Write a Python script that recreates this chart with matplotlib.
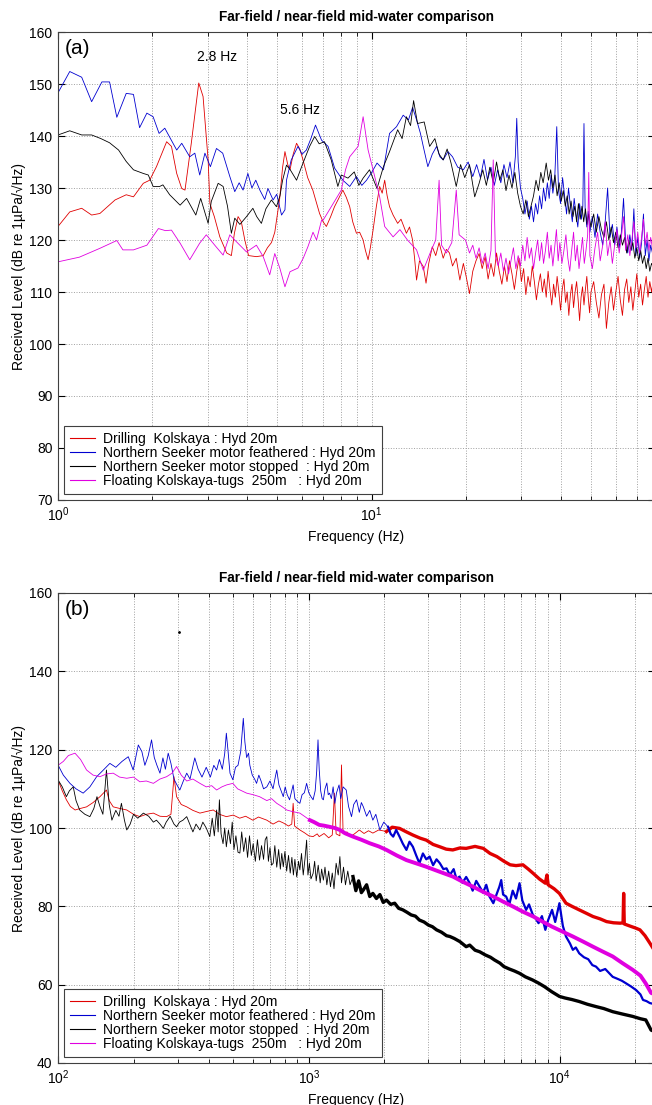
import numpy as np
import matplotlib
matplotlib.use('Agg')
import matplotlib.pyplot as plt
from matplotlib.ticker import LogLocator, MultipleLocator, NullFormatter

plt.rcParams['font.family'] = ['Liberation Sans', 'DejaVu Sans']
plt.rcParams['mathtext.fontset'] = 'custom'
plt.rcParams['mathtext.rm'] = 'Liberation Sans'

title = 'Far-field / near-field mid-water comparison'
ylab = 'Received Level (dB re 1\u00b5Pa/\u221aHz)'
labels = ['Drilling  Kolskaya : Hyd 20m',
          'Northern Seeker motor feathered : Hyd 20m',
          'Northern Seeker motor stopped  : Hyd 20m',
          'Floating Kolskaya-tugs  250m   : Hyd 20m']
colors = ['#e00000', '#0000d0', '#000000', '#e000e0']

# ---------------- panel (a): 1 - 80 Hz ----------------
a_red_f = [1.0, 1.09, 1.19, 1.28, 1.36, 1.52, 1.65, 1.74, 1.87, 1.96, 2.06, 2.22, 2.30, 2.39, 2.48, 2.54, 2.66, 2.81, 2.90, 3.01,
           3.05, 3.15, 3.28, 3.45, 3.57, 3.65, 3.75, 3.84, 3.94, 4.05, 4.29, 4.51, 4.65, 4.79, 4.91, 5.09, 5.2, 5.29, 5.40, 5.49,
           5.62, 5.76, 5.9, 6.04, 6.25, 6.49, 6.82, 7.0, 7.17, 7.4, 7.61, 7.85, 8.09, 8.3, 8.51, 8.7, 8.94, 9.15, 9.39, 9.55,
           9.74, 9.9, 10.1, 10.35, 10.6, 10.8, 11.0, 11.2, 11.4, 11.7, 12.1, 12.4, 12.9, 13.2, 13.5, 13.7, 13.9, 14.2, 14.6, 14.9,
           15.2, 15.6, 16.0, 16.4, 16.9, 17.3, 17.7, 18.1, 18.6, 19.1, 19.6, 20.0, 20.5, 21.0, 21.5, 22.0, 22.5, 23.0, 23.5, 24.0,
           24.5, 25.0, 25.5, 26.0, 26.5, 27.0, 27.5, 28.0, 28.5, 29.0, 29.5, 30.0, 30.5, 31.0, 31.5, 32.0, 32.5, 33.0, 33.5, 34.0,
           34.5, 35.0, 35.5, 36.0, 36.5, 37.0, 37.5, 38.0, 38.5, 39.0, 39.5, 40.0, 40.5, 41.0, 41.5, 42.0, 42.5, 43.0, 43.5, 44.0,
           44.5, 45.0, 45.5, 46.0, 46.5, 47.0, 47.5, 48.0, 48.5, 49.0, 49.5, 50, 51, 52, 53, 54, 55, 56, 57, 58,
           59, 60, 61, 62, 63, 64, 65, 66, 67, 68, 69, 70, 71, 72, 73, 74, 75, 76, 77, 78, 79, 80]
a_red_db = [122.6, 125.4, 126.1, 124.8, 125.1, 127.7, 128.7, 128.3, 130.9, 131.5, 134.1, 138.9, 138.0, 132.8, 129.9, 129.6, 138.6, 150.2, 147.6, 135.4,
            127.0, 124.5, 120.6, 117.5, 117.0, 121.3, 124.5, 123.5, 120.0, 117.0, 116.8, 117.0, 118.5, 119.5, 121.5, 128.0, 134.0, 137.0, 134.5, 133.5,
            136.5, 138.6, 137.5, 135.4, 132.0, 129.6, 125.1, 123.5, 122.6, 124.5, 126.4, 128.0, 129.6, 128.2, 126.4, 123.5, 121.3, 121.5, 120.0, 118.0,
            116.2, 118.5, 121.9, 126.5, 130.3, 129.0, 131.5, 128.5, 126.4, 124.8, 123.2, 124.0, 121.3, 122.5, 120.0, 116.5, 112.3, 116.0, 114.9, 111.7,
            115.5, 118.7, 117.0, 119.5, 116.5, 118.2, 117.5, 115.0, 116.5, 112.3, 115.5, 113.0, 109.7, 114.0, 116.0, 117.4, 114.5, 116.8, 112.5, 115.5,
            113.0, 117.5, 114.0, 111.5, 115.0, 112.0, 116.0, 113.5, 110.5, 114.0, 116.5, 112.0, 114.5, 109.5, 113.0, 111.0, 115.0, 112.0, 108.5, 111.5,
            113.5, 110.0, 112.5, 109.0, 114.0, 110.5, 107.5, 111.5, 109.0, 113.0, 110.0, 106.5, 110.5, 112.5, 108.0, 110.0, 105.5, 109.5, 111.5, 107.0,
            110.0, 112.0, 108.5, 104.5, 109.0, 111.0, 107.5, 110.5, 113.0, 109.0, 106.0, 110.0, 112.0, 108.0, 105.0, 109.5, 111.5, 103.0, 108.0, 111.0,
            106.5, 110.0, 113.0, 108.5, 105.5, 110.5, 112.5, 108.0, 111.0, 106.5, 110.0, 113.5, 109.0, 111.5, 107.5, 110.5, 113.0, 109.0, 112.0, 110.0, 112.5, 111.0]

a_blue_f = [1.0, 1.09, 1.19, 1.28, 1.38, 1.46, 1.54, 1.65, 1.74, 1.82, 1.92, 2.01, 2.10, 2.19, 2.39, 2.48, 2.63, 2.73, 2.83, 2.94,
            3.06, 3.20, 3.35, 3.53, 3.66, 3.78, 3.89, 4.03, 4.15, 4.27, 4.40, 4.56, 4.67, 4.85, 4.98, 5.16, 5.29, 5.35, 5.54, 5.82,
            6.0, 6.19, 6.4, 6.62, 6.92, 7.26, 7.62, 8.09, 8.51, 8.94, 9.3, 9.63, 10.0, 10.4, 10.9, 11.4, 12.0, 12.6, 13.1, 13.5,
            13.9, 14.3, 14.6, 15.1, 15.6, 16.1, 16.5, 16.9, 17.5, 18.1, 18.8, 19.6, 20.3, 21.0, 21.6, 22.2, 22.8, 23.4, 24.0, 24.6,
            25.2, 25.8, 26.4, 27.0, 27.6, 28.2, 28.7, 29.0, 29.3, 29.8, 30.3, 30.8, 31.3, 31.8, 32.3, 32.8, 33.3, 33.8, 34.3, 34.8,
            35.3, 35.8, 36.3, 36.8, 37.3, 37.8, 38.3, 38.9, 39.4, 40.0, 40.6, 41.2, 41.8, 42.4, 43.0, 43.6, 44.2, 44.8, 45.4, 46.0,
            46.6, 47.1, 47.5, 47.9, 48.5, 49.0, 49.6, 50.5, 51.5, 52.5, 53.5, 54.5, 55.5, 56.5, 57.5, 58.5, 59.5, 60.5, 61.5, 62.5,
            63.5, 64.5, 65.5, 66.5, 67.5, 68.5, 69.5, 70.5, 71.5, 72.5, 73.5, 74.5, 75.5, 76.5, 77.5, 78.5, 80]
a_blue_db = [148.3, 152.4, 151.3, 146.6, 150.4, 150.4, 143.6, 148.2, 148.0, 141.6, 144.4, 143.7, 140.5, 141.5, 137.3, 138.6, 136.0, 136.7, 132.5, 136.7,
             134.1, 137.6, 136.7, 132.2, 129.3, 131.0, 129.6, 132.8, 130.0, 131.5, 129.6, 127.8, 129.9, 127.7, 128.8, 124.8, 125.8, 131.5, 135.4, 138.0,
             136.5, 137.3, 139.5, 142.1, 139.2, 138.0, 133.8, 131.5, 130.3, 132.2, 130.5, 131.5, 133.0, 134.8, 133.5, 140.5, 141.8, 144.0, 143.1, 145.5,
             143.1, 140.5, 138.0, 134.1, 136.5, 138.0, 136.0, 135.4, 137.0, 136.0, 134.0, 133.5, 135.0, 132.2, 134.5, 132.0, 135.5, 131.5, 134.0, 130.5,
             133.5, 131.0, 134.5, 132.0, 135.0, 131.0, 136.0, 143.4, 135.0, 130.0, 128.0, 125.0, 127.5, 124.0, 126.5, 123.5, 127.0, 125.0, 128.5, 126.0,
             130.0, 127.5, 131.0, 128.0, 132.5, 129.0, 131.5, 141.8, 129.5, 127.0, 132.0, 128.5, 125.0, 130.0, 126.5, 123.5, 128.0, 125.0, 122.5, 127.0,
             124.0, 126.5, 142.4, 126.0, 122.5, 125.5, 121.5, 124.5, 120.5, 125.0, 121.5, 119.0, 123.5, 130.0, 120.5, 123.0, 119.0, 122.5, 118.5, 121.5,
             128.0, 119.5, 117.5, 121.0, 118.0, 126.0, 117.0, 120.5, 116.5, 119.5, 125.0, 117.0, 120.0, 116.0, 119.0, 117.5, 119.0]

a_black_f = [1.0, 1.09, 1.19, 1.28, 1.37, 1.46, 1.56, 1.65, 1.74, 1.87, 1.94, 2.01, 2.11, 2.16, 2.27, 2.45, 2.57, 2.75, 2.85, 3.01,
             3.08, 3.24, 3.36, 3.47, 3.57, 3.66, 3.8, 3.99, 4.18, 4.30, 4.45, 4.60, 4.79, 4.97, 5.1, 5.2, 5.35, 5.5, 5.76, 6.04,
             6.34, 6.58, 6.8, 7.07, 7.43, 7.80, 8.0, 8.40, 8.80, 9.1, 9.39, 9.84, 10.4, 10.9, 11.4, 12.1, 12.5, 12.9, 13.3, 13.6,
             14.0, 14.7, 15.3, 15.9, 16.4, 16.9, 17.4, 17.9, 18.6, 19.2, 19.8, 20.5, 21.3, 22.0, 22.6, 23.2, 23.8, 24.4, 25.0, 25.6,
             26.2, 26.8, 27.4, 28.0, 28.6, 29.2, 29.8, 30.4, 31.0, 31.6, 32.2, 32.8, 33.4, 34.0, 34.6, 35.2, 36.0, 36.6, 37.2, 37.8,
             38.4, 39.0, 39.6, 40.2, 40.8, 41.4, 42.0, 42.6, 43.2, 43.8, 44.4, 45.0, 45.6, 46.2, 46.8, 47.4, 48.0, 48.6, 49.2, 50,
             51, 52, 53, 54, 55, 56, 57, 58, 59, 60, 61, 62, 63, 64, 65, 66, 67, 68, 69, 70,
             71, 72, 73, 74, 75, 76, 77, 78, 80]
a_black_db = [140.2, 141.0, 140.2, 140.2, 139.5, 138.7, 137.3, 135.1, 133.5, 132.8, 132.5, 130.3, 130.3, 130.6, 128.7, 126.7, 128.0, 124.8, 128.0, 123.2,
              127.4, 130.9, 130.3, 126.5, 121.3, 124.2, 123.0, 124.5, 126.1, 124.5, 123.2, 126.0, 127.7, 126.4, 128.5, 131.5, 134.4, 133.5, 131.5, 134.8,
              138.0, 139.9, 138.5, 138.9, 135.4, 130.3, 132.5, 131.9, 133.1, 130.5, 131.9, 133.5, 129.9, 134.1, 137.0, 141.2, 139.5, 143.7, 142.0, 146.8,
              142.4, 142.7, 138.0, 139.5, 136.5, 135.4, 137.5, 134.8, 130.3, 134.5, 132.0, 134.5, 128.3, 130.9, 133.5, 130.5, 134.0, 131.0, 135.0, 131.5,
              133.5, 129.5, 132.5, 130.0, 133.0, 129.0, 126.5, 125.0, 127.7, 124.5, 126.5, 128.5, 131.5, 129.5, 133.0, 131.0, 134.8, 131.5, 133.5, 130.0,
              132.5, 128.5, 131.0, 127.5, 129.5, 126.5, 128.5, 125.0, 127.5, 124.5, 126.5, 123.5, 127.0, 124.0, 126.5, 123.5, 126.0, 123.0, 125.0, 122.5,
              125.0, 121.5, 124.5, 122.0, 120.5, 123.5, 120.0, 122.5, 119.5, 121.5, 118.5, 121.0, 119.0, 120.5, 117.5, 120.0, 118.0, 119.5, 116.5, 118.5,
              116.0, 118.0, 115.5, 117.0, 114.5, 116.5, 114.0, 115.5, 114.0]

a_mag_f = [1.0, 1.17, 1.36, 1.54, 1.61, 1.74, 1.92, 2.09, 2.2, 2.30, 2.45, 2.63, 2.83, 2.97, 3.16, 3.36, 3.53, 3.70, 3.99, 4.29,
           4.51, 4.73, 4.91, 5.1, 5.29, 5.49, 5.82, 6.05, 6.26, 6.5, 6.67, 6.92, 7.0, 7.43, 8.0, 8.25, 8.51, 9.05, 9.39, 9.74,
           10.1, 10.6, 11.0, 11.7, 12.3, 13.0, 13.9, 14.6, 15.5, 16.0, 16.4, 16.7, 17.3, 18.0, 18.6, 19.0, 19.9, 20.5, 21.0, 21.5,
           22.0, 22.5, 23.0, 23.5, 24.0, 24.4, 24.8, 25.3, 25.8, 26.3, 26.8, 27.3, 27.8, 28.3, 28.8, 29.3, 29.8, 30.3, 30.8, 31.3,
           31.8, 32.3, 32.8, 33.3, 33.8, 34.3, 34.8, 35.3, 35.8, 36.3, 36.8, 37.3, 37.8, 38.3, 38.8, 39.3, 39.8, 40.4, 41.0, 41.6,
           42.2, 42.8, 43.4, 44.0, 44.6, 45.2, 45.8, 46.4, 47.0, 47.6, 48.2, 48.8, 49.2, 49.6, 50.5, 51.5, 52.5, 53.5, 54.5, 55.5,
           56.5, 57.5, 58.5, 59.5, 60.5, 61.5, 62.5, 63.5, 64.5, 65.5, 66.5, 67.5, 68.5, 69.5, 70.5, 71.5, 72.5, 73.5, 74.5, 75.5,
           76.5, 77.5, 78.5, 80]
a_mag_db = [115.8, 116.7, 118.4, 119.9, 118.1, 118.1, 119.0, 122.2, 121.8, 121.9, 119.4, 116.2, 119.4, 121.0, 119.0, 117.1, 121.0, 119.7, 117.7, 119.0,
            116.8, 113.3, 117.4, 114.5, 111.0, 113.9, 114.6, 116.5, 118.7, 121.5, 120.0, 123.8, 123.8, 126.4, 129.6, 133.5, 136.0, 138.0, 143.7, 137.3,
            133.5, 128.3, 122.6, 120.6, 122.0, 120.0, 118.1, 114.2, 118.1, 120.0, 131.5, 119.0, 117.5, 119.5, 129.6, 121.0, 120.0, 117.5, 119.0, 116.5,
            118.5, 115.5, 117.5, 114.5, 118.0, 135.4, 117.0, 115.0, 117.5, 114.0, 116.5, 113.5, 116.0, 118.5, 114.5, 117.0, 115.0, 119.0, 116.0, 120.5,
            116.5, 118.5, 114.5, 117.5, 120.0, 116.0, 119.5, 115.5, 118.0, 121.5, 116.5, 119.0, 115.0, 118.5, 122.0, 116.0, 119.5, 115.5, 118.0, 121.0,
            116.5, 114.0, 118.0, 121.5, 116.0, 119.0, 114.5, 117.5, 120.5, 115.5, 118.0, 121.0, 133.0, 117.0, 114.5, 118.5, 121.5, 116.0, 119.0, 123.5,
            117.0, 120.0, 115.5, 119.0, 122.0, 117.5, 120.5, 124.5, 118.0, 121.0, 117.0, 120.0, 123.5, 118.5, 121.5, 117.5, 120.5, 124.0, 119.0, 121.5,
            118.0, 120.5, 118.5, 119.5]

# ---------------- panel (b): 100 Hz - 24 kHz ----------------
b_red_f = [100, 104, 108, 112, 117, 123, 130, 138, 147, 156, 160, 166, 176, 188, 200, 212, 225, 240, 255, 271,
           282, 290, 297, 310, 326, 345, 368, 390, 416, 440, 469, 500, 530, 560, 598, 630, 680, 720, 760, 791,
           830, 855, 866, 878, 921, 960, 1000, 1040, 1080, 1100, 1150, 1200, 1240, 1265, 1285, 1330, 1350, 1370, 1420, 1460,
           1520, 1590, 1660, 1730, 1800, 1900, 2040, 2150, 2300, 2450, 2600, 2780, 2940, 3130, 3330, 3530, 3750, 4000, 4240, 4600,
           4960, 5280, 5620, 6000, 6350, 6700, 7140, 7500, 7850, 8300, 8770, 8900, 9000, 9500, 9980, 10300, 10600, 11200, 11970, 12800,
           13580, 14500, 15390, 16400, 17440, 17900, 18000, 18100, 19000, 20000, 20900, 21900, 22900, 24000]
b_red_db = [112.3, 109.5, 107.2, 105.5, 104.6, 105.0, 105.4, 106.5, 108.0, 109.7, 107.0, 105.4, 105.0, 104.6, 103.5, 102.9, 103.5, 103.8, 103.0, 102.9,
            103.5, 113.1, 108.0, 106.0, 105.4, 104.5, 103.8, 104.2, 104.6, 103.5, 102.9, 103.3, 102.5, 103.0, 102.0, 102.8, 102.0, 101.0, 101.8, 101.3,
            100.5, 101.0, 106.3, 100.5, 99.5, 98.8, 98.0, 97.8, 98.5, 97.8, 98.6, 97.5, 98.2, 108.9, 98.5, 98.0, 116.1, 98.5, 99.0, 97.8,
            98.5, 99.5, 98.6, 99.3, 98.7, 99.5, 99.1, 100.2, 99.9, 99.0, 98.2, 97.4, 96.9, 95.8, 95.2, 94.6, 94.4, 94.9, 94.8, 95.3,
            94.8, 93.5, 92.7, 91.5, 90.6, 90.4, 90.6, 89.5, 88.4, 87.0, 85.9, 88.0, 85.5, 84.5, 83.3, 82.0, 80.8, 80.0, 79.1, 78.2,
            77.4, 76.8, 76.1, 75.8, 75.7, 75.8, 83.3, 75.5, 75.0, 74.5, 74.0, 72.5, 70.6, 68.5]

b_blue_f = [100, 105, 111.6, 118, 126, 134, 142.6, 150, 161, 170, 180, 190.6, 199.4, 209, 216, 222, 229, 236, 242, 248,
            255, 262, 268, 275, 282, 290, 298, 306, 316, 326, 336, 351, 362, 375, 390, 405, 418, 429, 440, 452,
            462, 469, 476, 485, 498, 510, 522, 535, 542, 548, 556, 565, 575, 582, 595, 608, 619, 632, 645, 660,
            680, 700, 720, 735, 745, 760, 775, 791, 805, 820, 838, 855, 866, 880, 900, 921, 940, 960, 980, 1000,
            1020, 1040, 1060, 1075, 1088, 1100, 1115, 1130, 1143, 1160, 1180, 1195, 1210, 1230, 1250, 1270, 1290, 1320, 1340, 1370,
            1410, 1440, 1480, 1510, 1550, 1590, 1620, 1650, 1700, 1750, 1800, 1850, 1920, 1990, 2070, 2120, 2170, 2230, 2300, 2370,
            2450, 2520, 2600, 2680, 2760, 2850, 2940, 3030, 3130, 3230, 3330, 3440, 3540, 3650, 3780, 3880, 3990, 4100, 4240, 4380,
            4500, 4650, 4800, 4950, 5100, 5250, 5440, 5600, 5750, 5850, 5950, 6120, 6300, 6500, 6700, 6920, 7100, 7350, 7550, 7800,
            8000, 8240, 8500, 8770, 9000, 9330, 9600, 9980, 10300, 10600, 11000, 11290, 11600, 11970, 12500, 13000, 13500, 13970, 14500, 15200,
            16280, 17000, 17700, 18440, 19300, 20200, 21000, 21500, 22200, 22890, 24000]
b_blue_db = [116.1, 113.5, 111.4, 110.0, 108.9, 110.5, 113.1, 114.5, 116.5, 115.5, 117.0, 118.2, 114.8, 121.2, 119.5, 116.0, 118.5, 122.5, 118.0, 116.0,
             114.0, 117.9, 115.0, 119.1, 116.5, 112.5, 111.0, 109.7, 112.0, 114.0, 112.5, 117.9, 115.0, 113.0, 115.5, 113.0, 116.0, 114.8, 117.5, 115.0,
             119.0, 124.2, 119.9, 114.0, 112.3, 115.5, 116.0, 119.5, 124.0, 128.0, 122.0, 118.0, 119.1, 116.0, 113.5, 112.5, 111.4, 113.5, 112.0, 110.0,
             110.5, 112.0, 110.0, 113.0, 114.8, 111.0, 109.5, 108.0, 110.5, 108.5, 107.2, 109.5, 111.0, 107.5, 106.8, 106.3, 108.5, 109.0, 111.4, 109.0,
             108.0, 107.2, 109.5, 114.5, 122.5, 115.0, 109.5, 107.5, 107.2, 110.0, 111.5, 108.5, 108.9, 107.5, 110.5, 106.3, 109.0, 111.0, 107.5, 110.5,
             109.7, 105.5, 102.9, 106.0, 107.2, 104.0, 106.5, 105.4, 103.0, 104.5, 102.0, 103.5, 99.5, 101.5, 100.3, 98.5, 97.8, 99.5, 97.8, 96.0,
             94.4, 96.5, 95.2, 93.0, 91.0, 93.5, 92.0, 92.7, 90.5, 92.0, 91.0, 89.5, 89.7, 88.0, 89.5, 87.0, 87.6, 86.0, 87.5, 85.9,
             84.0, 86.5, 85.0, 83.5, 85.5, 82.5, 80.8, 83.0, 85.0, 86.7, 83.0, 82.5, 80.5, 84.0, 82.0, 85.9, 81.5, 79.1, 80.5, 78.0,
             77.0, 75.7, 77.5, 74.0, 76.5, 79.1, 76.0, 80.8, 75.0, 72.3, 70.5, 68.9, 69.5, 68.0, 67.0, 66.5, 65.0, 64.6, 63.5, 64.0,
             62.0, 61.5, 61.0, 60.3, 59.5, 58.6, 57.5, 56.1, 55.8, 55.3, 55.0]

b_black_f = [100, 104, 108, 111, 115, 118, 122, 128, 134, 139, 143, 147, 151, 156, 160, 164, 170, 175, 179, 184,
             188, 194, 200, 208, 219, 230, 240, 247, 255, 263, 270, 280, 290, 297, 305, 315, 326, 335, 345, 355,
             368, 378, 390, 403, 412, 420, 429, 435, 440, 447, 455, 462, 469, 478, 487, 495, 503, 512, 522, 531,
             540, 550, 560, 570, 580, 590, 600, 612, 624, 636, 648, 660, 670, 680, 690, 700, 710, 721, 732, 745,
             758, 770, 780, 791, 803, 816, 830, 843, 856, 868, 880, 895, 910, 921, 935, 950, 965, 980, 992, 1005,
             1020, 1040, 1055, 1070, 1090, 1110, 1125, 1143, 1160, 1180, 1200, 1220, 1240, 1260, 1285, 1310, 1330, 1350, 1375, 1400,
             1430, 1460, 1500, 1540, 1580, 1620, 1650, 1700, 1750, 1800, 1860, 1920, 1980, 2040, 2120, 2200, 2280, 2370, 2460, 2560,
             2660, 2760, 2880, 3000, 3110, 3230, 3380, 3540, 3650, 3800, 4000, 4240, 4380, 4600, 4800, 5050, 5300, 5500, 5780, 6000,
             6300, 6600, 6920, 7300, 7800, 8240, 8700, 9300, 9980, 10500, 11200, 11970, 12900, 13970, 15000, 16280, 17800, 19550, 21000, 22050,
             23150, 24000]
b_black_db = [112.3, 110.5, 108.0, 109.5, 110.5, 107.0, 104.6, 103.5, 102.9, 105.0, 108.0, 105.5, 103.5, 114.8, 106.0, 102.0, 104.5, 103.0, 106.3, 102.0,
              99.5, 101.0, 103.5, 102.5, 103.8, 103.0, 101.5, 102.0, 101.0, 99.9, 101.5, 103.0, 101.0, 100.3, 101.5, 102.0, 102.9, 101.0, 99.0, 101.0,
              99.5, 101.5, 100.0, 97.8, 102.5, 98.0, 104.6, 99.0, 107.2, 98.5, 96.0, 100.0, 95.2, 99.5, 96.0, 101.5, 94.5, 98.0, 93.8, 93.6,
              99.0, 94.0, 97.5, 92.5, 98.0, 93.0, 96.0, 91.5, 97.0, 91.8, 95.5, 92.0, 97.0, 97.8, 91.5, 95.0, 90.5, 91.0, 95.5, 90.0,
              94.5, 89.5, 93.5, 90.1, 94.0, 89.0, 93.0, 88.5, 92.5, 88.0, 92.0, 87.5, 91.5, 89.3, 93.5, 88.0, 92.0, 96.9, 88.0, 91.0,
              87.0, 88.4, 91.5, 86.5, 90.5, 86.0, 89.5, 86.7, 90.0, 85.5, 89.0, 85.0, 88.5, 84.5, 91.0, 88.0, 92.7, 86.0, 90.0, 85.5,
              89.0, 85.5, 87.6, 84.0, 86.5, 83.5, 84.2, 85.5, 82.5, 83.3, 82.0, 83.0, 81.0, 81.6, 80.5, 80.8, 79.5, 79.1, 78.5, 77.8,
              77.5, 76.5, 76.0, 75.2, 74.8, 74.0, 73.4, 72.5, 72.3, 71.8, 71.0, 69.7, 70.1, 68.8, 68.4, 67.6, 67.0, 66.3, 65.5, 64.6,
              64.0, 63.5, 62.9, 62.0, 61.2, 60.4, 59.5, 58.2, 57.0, 56.6, 56.2, 55.7, 55.0, 54.4, 53.9, 53.1, 52.5, 51.9, 51.3, 51.0,
              48.4, 48.0]

b_mag_f = [100, 105, 110, 116.9, 123, 130, 138, 147, 156, 166, 176, 188, 200, 212, 225, 240, 255, 271, 285, 297,
           310, 326, 345, 368, 390, 410, 429, 450, 470, 498, 520, 540, 565, 600, 636, 680, 710, 745, 780, 816,
           860, 921, 960, 1010, 1050, 1100, 1150, 1210, 1270, 1330, 1400, 1500, 1620, 1750, 1900, 2040, 2240, 2450, 2700, 2940,
           3300, 3750, 4100, 4520, 4950, 5440, 5950, 6540, 7150, 7850, 8550, 9330, 10300, 11290, 12400, 13580, 14800, 16280, 17800, 19550,
           21000, 22050, 23150, 24000]
b_mag_db = [116.0, 117.0, 118.5, 119.1, 117.5, 114.8, 113.5, 113.1, 113.8, 114.0, 113.0, 112.7, 113.0, 111.8, 112.0, 111.4, 112.5, 113.1, 114.0, 115.7,
            113.5, 112.0, 112.5, 111.4, 110.5, 110.8, 109.7, 110.5, 111.0, 111.4, 110.0, 109.5, 108.9, 108.5, 108.0, 107.0, 107.5, 106.3, 105.5, 104.6,
            104.2, 103.8, 103.0, 102.0, 101.5, 100.8, 100.6, 100.3, 100.0, 99.5, 98.6, 97.8, 97.0, 96.1, 95.3, 94.4, 93.0, 91.8, 90.9, 90.1,
            88.9, 87.6, 86.3, 85.0, 83.7, 82.5, 81.2, 79.9, 78.6, 77.4, 76.1, 74.8, 73.5, 72.3, 71.0, 69.7, 68.5, 67.2, 65.5, 63.8,
            62.3, 60.3, 57.9, 57.5]

# above these frequencies the measured traces are dense and look thick
b_thick_from = [2000, 2000, 1500, 1000]
b_thick_lw = [2.4, 1.6, 2.4, 2.8]

W, H = 652, 1105
fig = plt.figure(figsize=(W / 100, H / 100), dpi=100)

ax1 = fig.add_axes([58 / W, 1 - 500 / H, 597 / W, 468 / H])
ax2 = fig.add_axes([58 / W, 1 - 1063 / H, 597 / W, 470 / H])

a_f = [a_red_f, a_blue_f, a_black_f, a_mag_f]
a_db = [a_red_db, a_blue_db, a_black_db, a_mag_db]
for f, db, c in zip(a_f, a_db, colors):
    ax1.plot(f, db, color=c, lw=0.6)

b_f = [b_red_f, b_blue_f, b_black_f, b_mag_f]
b_db = [b_red_db, b_blue_db, b_black_db, b_mag_db]
for f, db, c, fth, tlw in zip(b_f, b_db, colors, b_thick_from, b_thick_lw):
    f = np.array(f)
    db = np.array(db)
    ax2.plot(f, db, color=c, lw=0.6)
    m = f >= fth
    ax2.plot(f[m], db[m], color=c, lw=tlw)
# stray point in panel (b)
ax2.plot([304], [150], 'k.', ms=2)

def style(ax, xlim, ylim, ystep, tag):
    ax.set_xscale('log')
    ax.set_xlim(*xlim)
    ax.set_ylim(*ylim)
    ax.yaxis.set_major_locator(MultipleLocator(ystep))
    ax.xaxis.set_major_locator(LogLocator(base=10))
    ax.xaxis.set_minor_locator(LogLocator(base=10, subs=np.arange(2, 10)))
    ax.xaxis.set_minor_formatter(NullFormatter())
    ax.grid(True, which='major', axis='both', ls=':', color='#a0a0a0', lw=0.7)
    ax.grid(True, which='minor', axis='x', ls=':', color='#a0a0a0', lw=0.7)
    ax.tick_params(which='both', direction='in', top=True, right=True, labelsize=10, pad=4)
    ax.tick_params(which='major', length=5)
    ax.tick_params(which='minor', length=3)
    for s in ax.spines.values():
        s.set_color('#404040')
        s.set_linewidth(0.8)
    ax.set_title(title, fontsize=9.8, fontweight='bold', pad=8)
    ax.set_xlabel('Frequency (Hz)', fontsize=10, labelpad=4)
    ax.set_ylabel(ylab, fontsize=10, labelpad=2)
    ax.text(0.012, 0.985, tag, transform=ax.transAxes, fontsize=15, va='top', ha='left')
    # legend entries: one plain line per series, in the series colours
    handles = [plt.Line2D([], [], color=c, lw=0.8) for c in colors]
    leg = ax.legend(handles, labels, loc='lower left', fontsize=10, frameon=True, fancybox=False,
                    edgecolor='#404040', framealpha=1.0, borderaxespad=0.4, handlelength=1.8,
                    handletextpad=0.6, labelspacing=0.0, borderpad=0.45)
    leg.get_frame().set_linewidth(0.8)

style(ax1, (1, 80), (70, 160), 10, '(a)')
style(ax2, (100, 24000), (40, 160), 20, '(b)')

ax1.text(3.21, 155.2, '2.8 Hz', fontsize=10, ha='center', va='center')
ax1.text(5.9, 145.0, '5.6 Hz', fontsize=10, ha='center', va='center')

fig.savefig('out.png', dpi=100)
